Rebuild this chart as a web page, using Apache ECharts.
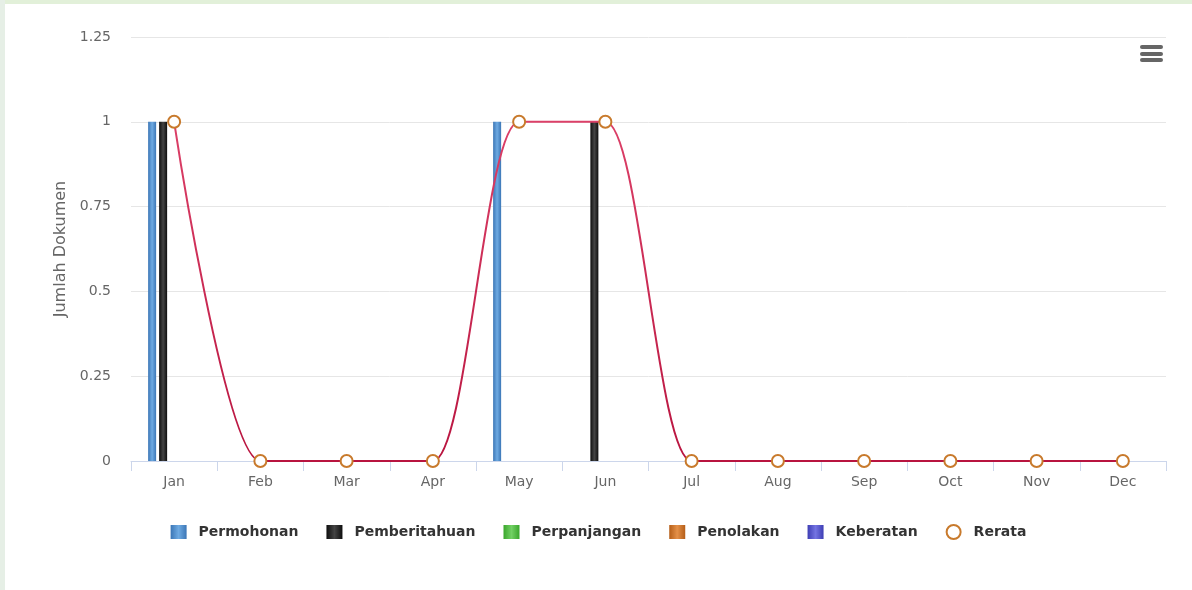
<!DOCTYPE html>
<html>
<head>
<meta charset="utf-8">
<script src="https://cdn.jsdelivr.net/npm/echarts@6/dist/echarts.min.js"></script>
<style>
  body { margin: 0; background: #e6efe6; width: 1192px; height: 590px; overflow: hidden; }
  #topbar { position: absolute; left: 5px; top: 0; width: 1187px; height: 4px; background: #e2f0d9; }
  #chart { position: absolute; left: 5px; top: 4px; width: 1187px; height: 586px; background: #fff; }
</style>
</head>
<body>
<div id="topbar"></div>
<div id="chart"></div>
<script>
  // data
  var months = ['Jan', 'Feb', 'Mar', 'Apr', 'May', 'Jun', 'Jul', 'Aug', 'Sep', 'Oct', 'Nov', 'Dec'];
  var permohonan    = [1, 0, 0, 0, 1, 0, 0, 0, 0, 0, 0, 0];
  var pemberitahuan = [1, 0, 0, 0, 0, 1, 0, 0, 0, 0, 0, 0];
  var perpanjangan  = [0, 0, 0, 0, 0, 0, 0, 0, 0, 0, 0, 0];
  var penolakan     = [0, 0, 0, 0, 0, 0, 0, 0, 0, 0, 0, 0];
  var keberatan     = [0, 0, 0, 0, 0, 0, 0, 0, 0, 0, 0, 0];
  var rerata        = [1, 0, 0, 0, 1, 1, 0, 0, 0, 0, 0, 0];

  function grad(edge, mid) {
    return new echarts.graphic.LinearGradient(0, 0, 1, 0, [
      { offset: 0, color: edge },
      { offset: 0.5, color: mid },
      { offset: 1, color: edge }
    ]);
  }

  function barSeries(name, data, edge, mid) {
    return {
      name: name,
      type: 'bar',
      data: data,
      barWidth: 8,
      barGap: '37.5%',
      itemStyle: { color: grad(edge, mid) }
    };
  }

  var chart = echarts.init(document.getElementById('chart'));
  var option = {
    animation: false,
    textStyle: { fontFamily: 'DejaVu Sans' },
    grid: { left: 126, right: 26, top: 33, bottom: 129 },
    legend: {
      bottom: 45,
      left: 'center',
      itemWidth: 16,
      itemHeight: 14,
      itemGap: 28,
      textStyle: { fontSize: 14, fontWeight: 'bold', color: '#333', padding: [0, 0, 0, 7] },
      data: [
        { name: 'Permohonan', icon: 'rect' },
        { name: 'Pemberitahuan', icon: 'rect' },
        { name: 'Perpanjangan', icon: 'rect' },
        { name: 'Penolakan', icon: 'rect' },
        { name: 'Keberatan', icon: 'rect' },
        { name: 'Rerata', icon: 'emptyCircle', itemStyle: { color: '#c87a2c', borderColor: '#c87a2c', borderWidth: 2.5 } }
      ]
    },
    xAxis: {
      type: 'category',
      data: months,
      axisLine: { lineStyle: { color: '#ccd6eb' } },
      axisTick: { show: true, length: 10, lineStyle: { color: '#ccd6eb' } },
      axisLabel: { color: '#666', fontSize: 14, margin: 14 }
    },
    yAxis: {
      type: 'value',
      min: 0,
      max: 1.25,
      interval: 0.25,
      name: 'Jumlah Dokumen',
      nameLocation: 'middle',
      nameRotate: 90,
      nameGap: 62,
      nameTextStyle: { color: '#666', fontSize: 16 },
      axisLabel: { color: '#666', fontSize: 14, margin: 20 },
      splitLine: { lineStyle: { color: '#e6e6e6' } }
    },
    series: [
      barSeries('Permohonan', permohonan, '#3b76b6', '#6eaae2'),
      barSeries('Pemberitahuan', pemberitahuan, '#0e0e0e', '#444'),
      barSeries('Perpanjangan', perpanjangan, '#3aa62c', '#72d064'),
      barSeries('Penolakan', penolakan, '#b55e18', '#e49048'),
      barSeries('Keberatan', keberatan, '#3e3eb4', '#7474e2'),
      {
        name: 'Rerata',
        type: 'line',
        data: rerata,
        smooth: 0.4,
        smoothMonotone: 'x',
        symbol: 'circle',
        symbolSize: 12,
        lineStyle: {
          width: 2,
          color: new echarts.graphic.LinearGradient(0, 0, 0, 1, [
            { offset: 0, color: '#dc4068' },
            { offset: 1, color: '#b8143f' }
          ])
        },
        itemStyle: { color: '#fff', borderColor: '#c87a2c', borderWidth: 2 },
        z: 5
      }
    ],
    graphic: [
      { type: 'rect', right: 29, top: 41, shape: { width: 23, height: 4, r: 2 }, style: { fill: '#666' } },
      { type: 'rect', right: 29, top: 48, shape: { width: 23, height: 4, r: 2 }, style: { fill: '#666' } },
      { type: 'rect', right: 29, top: 54, shape: { width: 23, height: 4, r: 2 }, style: { fill: '#666' } }
    ]
  };
  chart.setOption(option);
  window.addEventListener('resize', function () {
    chart.resize();
  });
</script>
</body>
</html>
